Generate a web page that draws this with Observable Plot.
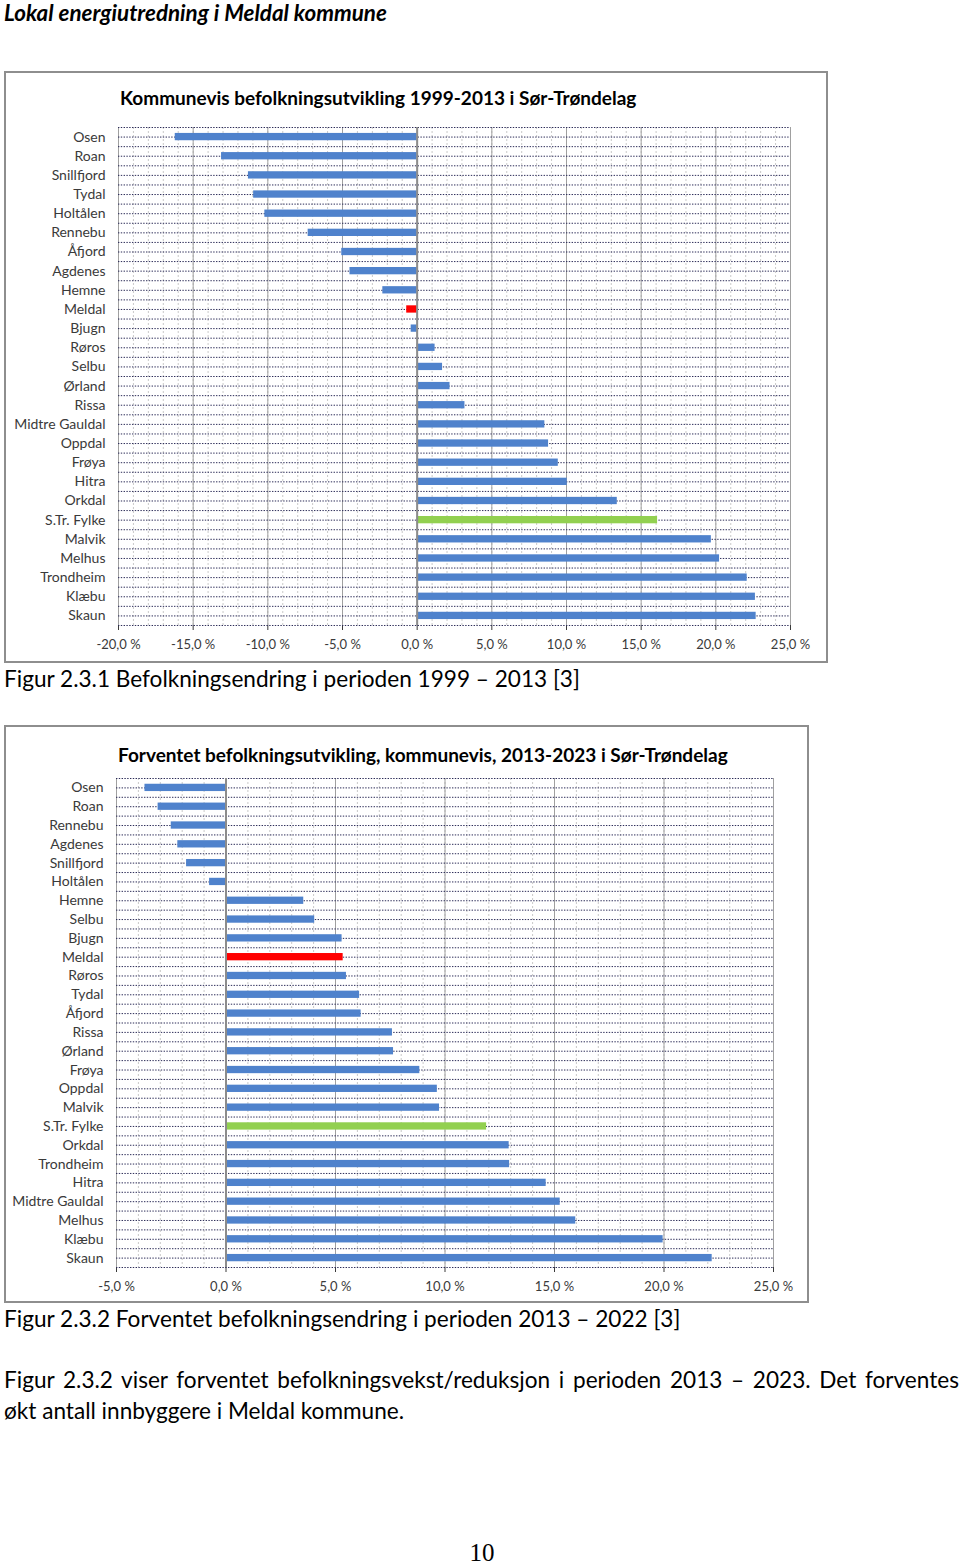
<!DOCTYPE html>
<html>
<head>
<meta charset="utf-8">
<script src="https://cdn.jsdelivr.net/npm/d3@7"></script>
<script src="https://cdn.jsdelivr.net/npm/@observablehq/plot@0.6"></script>
<style>
  body { margin: 0; background: #fff; }
  #page { position: relative; width: 960px; height: 1565px; overflow: hidden; font-family: Lato, "Open Sans", sans-serif; color: #000; }
  .abs { position: absolute; white-space: nowrap; }
  .chart { position: absolute; }
  .frame { position: absolute; left: 0; top: 0; right: 0; bottom: 0; box-sizing: border-box; border: 2px solid #8e8e8e; pointer-events: none; }
  .chart svg { position: absolute; left: 0; top: 0; }
  .ctitle { position: absolute; font-weight: 700; font-size: 19px; white-space: nowrap; color: #000; }
  .caption { position: absolute; font-size: 22.6px; white-space: nowrap; left: 4px; }
</style>
</head>
<body>
<div id="page">
  <div class="abs" style="left:4px; top:1px; font-size:22.4px; font-weight:700; font-style:italic; line-height:24px;">Lokal energiutredning i Meldal kommune</div>

  <div class="chart" id="c1" style="left:4px; top:71px; width:824px; height:592px;">
    <div class="ctitle" style="left:116px; top:15px;">Kommunevis befolkningsutvikling 1999-2013 i Sør-Trøndelag</div>
    <div class="frame"></div>
  </div>
  <div class="caption" style="top:665px;">Figur 2.3.1 Befolkningsendring i perioden 1999 – 2013 [3]</div>

  <div class="chart" id="c2" style="left:4px; top:725px; width:805px; height:578px;">
    <div class="ctitle" style="left:114px; top:18px;">Forventet befolkningsutvikling, kommunevis, 2013-2023 i Sør-Trøndelag</div>
    <div class="frame"></div>
  </div>
  <div class="caption" style="top:1305px;">Figur 2.3.2 Forventet befolkningsendring i perioden 2013 – 2022 [3]</div>

  <div class="abs" style="left:4px; top:1366px; width:955px; font-size:22.6px; text-align:justify; text-align-last:justify;">Figur 2.3.2 viser forventet befolkningsvekst/reduksjon i perioden 2013 – 2023. Det forventes</div>
  <div class="abs" style="left:4px; top:1397px; font-size:22.6px;">økt antall innbyggere i Meldal kommune.</div>

  <div class="abs" style="left:0; width:964px; text-align:center; top:1539px; font-family:'Liberation Serif','DejaVu Serif',serif; font-size:25px;">10</div>
</div>
<script>
// ---- Data: Figure 2.3.1 (1999-2013, % change) ----
const categories1 = ["Osen","Roan","Snillfjord","Tydal","Holtålen","Rennebu","Åfjord","Agdenes","Hemne","Meldal","Bjugn","Røros","Selbu","Ørland","Rissa","Midtre Gauldal","Oppdal","Frøya","Hitra","Orkdal","S.Tr. Fylke","Malvik","Melhus","Trondheim","Klæbu","Skaun"];
const values1 = [-16.2,-13.1,-11.3,-10.95,-10.2,-7.3,-5.05,-4.5,-2.3,-0.7,-0.4,1.2,1.7,2.2,3.2,8.55,8.8,9.45,10.05,13.4,16.1,19.7,20.25,22.1,22.65,22.7];
const ticks1 = [-20,-15,-10,-5,0,5,10,15,20,25];

// ---- Data: Figure 2.3.2 (2013-2023, expected % change) ----
const categories2 = ["Osen","Roan","Rennebu","Agdenes","Snillfjord","Holtålen","Hemne","Selbu","Bjugn","Meldal","Røros","Tydal","Åfjord","Rissa","Ørland","Frøya","Oppdal","Malvik","S.Tr. Fylke","Orkdal","Trondheim","Hitra","Midtre Gauldal","Melhus","Klæbu","Skaun"];
const values2 = [-3.7,-3.1,-2.5,-2.2,-1.8,-0.75,3.55,4.05,5.3,5.35,5.5,6.1,6.17,7.6,7.65,8.85,9.65,9.75,11.9,12.93,12.95,14.62,15.26,15.97,19.96,22.2];
const ticks2 = [-5,0,5,10,15,20,25];

const highlightName = "Meldal";
const countyName = "S.Tr. Fylke";

const fmt = d => d.toFixed(1).replace(".", ",") + " %";

function barChart({cats, vals, ticks, width, height, mt, mr, mb, ml, barThick}) {
  const data = cats.map((name, i) => ({name, value: vals[i]}));
  const step = (height - mt - mb) / cats.length;
  const inset = (step - barThick) / 2;
  const minor = d3.range(ticks[0], ticks[ticks.length - 1] + 1, 1);
  const fillOf = d => d.name === highlightName ? "#ff0000" : d.name === countyName ? "#92d050" : "#4f82cc";
  const dotted = {stroke: "#2c2c58", strokeDasharray: "1.4,1.4", strokeWidth: 1};
  const svg = Plot.plot({
    width, height,
    marginTop: mt, marginRight: mr, marginBottom: mb, marginLeft: ml,
    style: {fontFamily: "Lato, 'Open Sans', sans-serif", fontSize: "13px", color: "#3a3a3a", background: "transparent", overflow: "visible"},
    x: {domain: [ticks[0], ticks[ticks.length - 1]], ticks, tickFormat: fmt, tickSize: 5, tickPadding: 9, label: null},
    y: {type: "band", domain: cats, padding: 0, paddingInner: 0, paddingOuter: 0, round: false, tickSize: 0, tickPadding: 13, label: null},
    color: {type: "identity"},
    marks: [
      Plot.ruleX(minor, {stroke: "#c9c9c9", strokeDasharray: "2,2"}),
      Plot.ruleX(ticks, {stroke: "#a0a0a0"}),
      Plot.ruleY(cats, {...dotted, dy: -step / 2}),
      Plot.ruleY(cats, {...dotted}),
      Plot.ruleY(cats.slice(-1), {...dotted, dy: step / 2}),
      Plot.barX(data, {x: "value", y: "name", fill: fillOf, insetTop: inset, insetBottom: inset}),
      Plot.ruleX([0], {stroke: "#8c8c8c", strokeWidth: 2})
    ]
  });
  svg.querySelectorAll('g[aria-label="y-axis tick label"] text, g[aria-label="y-axis"] text').forEach(t => t.setAttribute("font-size", "14"));
  return svg;
}

const svg1 = barChart({cats: categories1, vals: values1, ticks: ticks1, width: 824, height: 592, mt: 56, mr: 38, mb: 38, ml: 114, barThick: 7.3});
document.getElementById("c1").insertBefore(svg1, document.querySelector("#c1 .frame"));

const svg2 = barChart({cats: categories2, vals: values2, ticks: ticks2, width: 805, height: 578, mt: 53, mr: 36, mb: 36, ml: 112, barThick: 7.3});
document.getElementById("c2").insertBefore(svg2, document.querySelector("#c2 .frame"));
</script>
</body>
</html>
